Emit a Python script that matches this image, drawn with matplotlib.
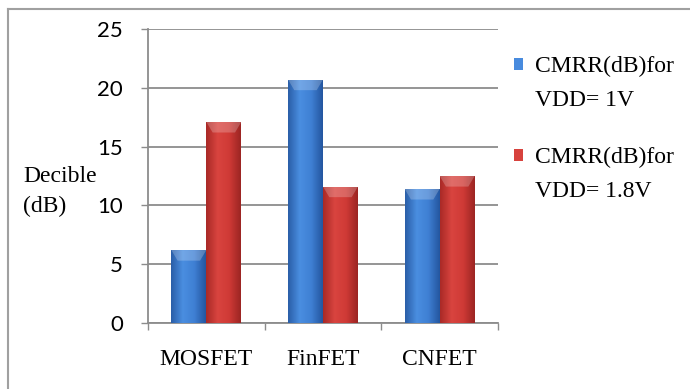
import numpy as np
import matplotlib.pyplot as plt
from matplotlib.patches import Rectangle, Polygon
from matplotlib.lines import Line2D
from matplotlib.colors import LinearSegmentedColormap

categories = ["MOSFET", "FinFET", "CNFET"]
cmrr_1v = [6.2, 20.7, 11.4]
cmrr_18v = [17.1, 11.6, 12.5]
series_labels = ["CMRR(dB)for\nVDD= 1V", "CMRR(dB)for\nVDD= 1.8V"]
yticks = [0, 5, 10, 15, 20, 25]

blue_map = LinearSegmentedColormap.from_list("b", ["#2a5ea8", "#4a8ee0", "#3f80d4", "#2456a0"])
red_map = LinearSegmentedColormap.from_list("r", ["#a92a27", "#d9443f", "#cf3a36", "#9c2523"])

serif = "Liberation Serif"
fs = 17

fig = plt.figure(figsize=(6.9, 3.89), dpi=100)
ax = fig.add_axes([0.2145, 0.1697, 0.5072, 0.7557])

x = np.arange(len(categories))
w = 0.3

def shaded_bars(xs, vals, cmap):
    bars = ax.bar(xs, vals, w, color=cmap(0.5), edgecolor="none", zorder=3)
    grad = np.linspace(0, 1, 64).reshape(1, -1)
    for b in bars:
        x0, h = b.get_x(), b.get_height()
        im = ax.imshow(grad, cmap=cmap, aspect="auto", zorder=3,
                       extent=[x0, x0 + w, 0, h], interpolation="bicubic")
        im.set_clip_path(b)
        # bevelled top face
        ax.add_patch(Polygon([(x0, h), (x0 + w, h), (x0 + w * 0.82, h - 0.9), (x0 + w * 0.18, h - 0.9)],
                             closed=True, color="white", alpha=0.22, lw=0, zorder=4))
    return bars

shaded_bars(x - w / 2, cmrr_1v, blue_map)
shaded_bars(x + w / 2, cmrr_18v, red_map)

ax.set_xlim(-0.5, 2.5)
ax.set_ylim(0, 25)
ax.set_yticks(yticks)
ax.set_yticklabels([str(t) for t in yticks], fontfamily="Lato", fontsize=16)
ax.set_xticks(x)
ax.set_xticklabels(categories, fontfamily=serif, fontsize=fs)
ax.set_xticks([-0.5, 0.5, 1.5, 2.5], minor=True)
ax.tick_params(axis="x", which="major", length=0, pad=19)
ax.tick_params(axis="x", which="minor", length=5, color="#8c8c8c", width=1)
ax.tick_params(axis="y", length=5, color="#8c8c8c", width=1, pad=13)
ax.yaxis.grid(True, color="#8c8c8c", linewidth=1.3, zorder=0)
ax.set_axisbelow(True)
for s in ["top", "right"]:
    ax.spines[s].set_visible(False)
for s in ["left", "bottom"]:
    ax.spines[s].set_color("#8c8c8c")
    ax.spines[s].set_linewidth(1.3)

# y axis title
fig.text(23 / 690, 1 - 176 / 389, "Decible", fontfamily=serif, fontsize=fs, va="center")
fig.text(23 / 690, 1 - 206 / 389, "(dB)", fontfamily=serif, fontsize=fs, va="center")

# legend
leg_y = [64, 155]
for yy, lab, cmap in zip(leg_y, series_labels, [blue_map, red_map]):
    fig.patches.append(Rectangle((514 / 690, 1 - (yy + 6) / 389), 9 / 690, 12 / 389,
                                 transform=fig.transFigure, color=cmap(0.4), lw=0))
    line1, line2 = lab.split("\n")
    fig.text(535 / 690, 1 - (yy + 2) / 389, line1, fontfamily=serif, fontsize=fs, va="center")
    fig.text(535 / 690, 1 - (yy + 36) / 389, line2, fontfamily=serif, fontsize=fs, va="center")

# outer frame
fig.add_artist(Line2D([8 / 690, 1], [1 - 9 / 389] * 2, color="#a0a0a0", lw=1.5))
fig.add_artist(Line2D([8 / 690] * 2, [0, 1 - 9 / 389], color="#a0a0a0", lw=1.5))

fig.savefig("out.png", dpi=100)
